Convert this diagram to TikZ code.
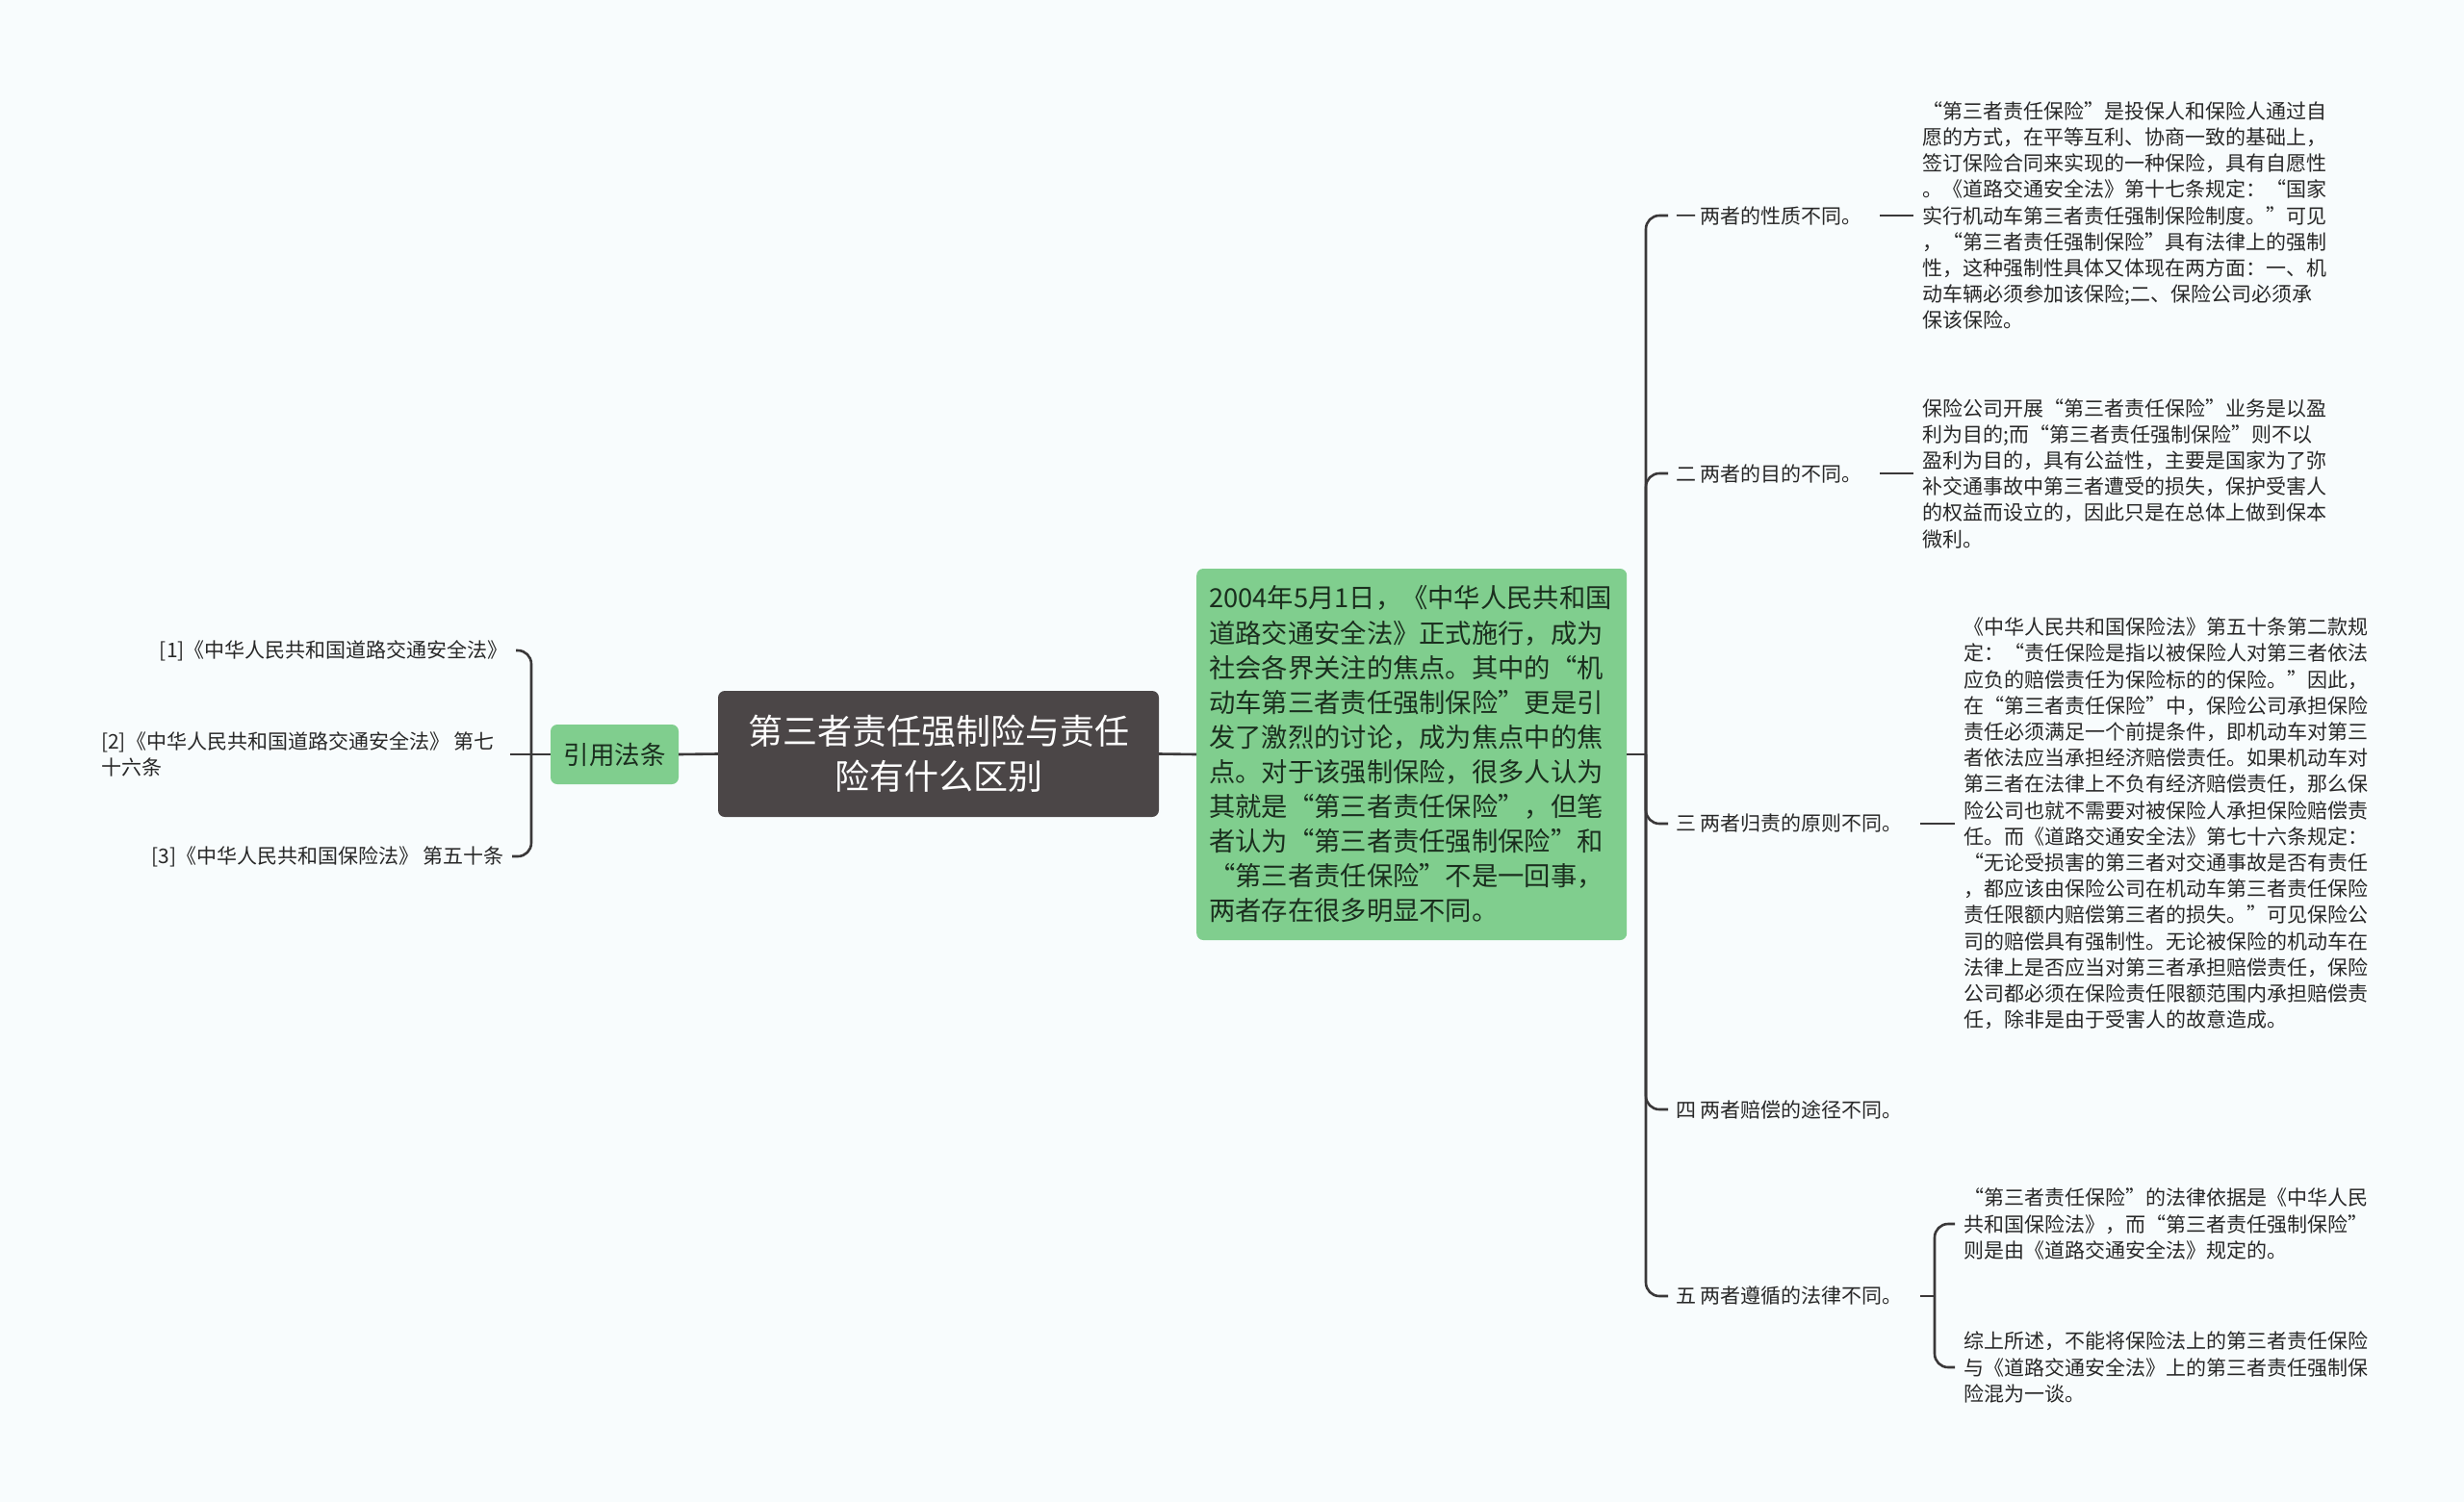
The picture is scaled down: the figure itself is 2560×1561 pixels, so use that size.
\documentclass[tikz,border=0pt]{standalone}
\usepackage{fontspec}
\setmainfont{Noto Sans CJK SC}
\usetikzlibrary{positioning,calc}

\definecolor{bgcol}{RGB}{248,252,253}
\definecolor{rootfill}{RGB}{75,70,71}
\definecolor{leaffill}{RGB}{128,206,142}
\definecolor{linecol}{RGB}{58,56,57}
\definecolor{txtcol}{RGB}{40,40,40}
\definecolor{leaftxt}{RGB}{26,46,30}

\begin{document}
\begin{tikzpicture}[
    x=1pt, y=-1pt,
    conn/.style={draw=linecol, line width=2.6pt, rounded corners=14pt},
    root/.style={fill=rootfill, rounded corners=7pt, text=white, align=center,
                 minimum width=458pt, minimum height=131pt, inner sep=0pt,
                 font=\fontsize{36}{47}\selectfont},
    topic/.style={fill=leaffill, rounded corners=7pt, text=leaftxt,
                  inner sep=0pt, font=\fontsize{26.5}{34}\selectfont},
    intro/.style={fill=leaffill, rounded corners=7pt, text=leaftxt, align=left,
                  text width=421pt, inner xsep=13pt, minimum height=386pt,
                  font=\fontsize{27.3}{36.1}\selectfont},
    label/.style={anchor=west, inner xsep=8pt, text=txtcol,
                  font=\fontsize{21}{26}\selectfont},
    detail/.style={anchor=west, align=left, inner xsep=9pt, text=txtcol,
                   font=\fontsize{21}{27.2}\selectfont},
    ref/.style={detail, anchor=east, inner xsep=8pt},
  ]
  \fill[bgcol] (0,0) rectangle (2560,1561);

  % ---------------------------------------------------------------
  % Centre: root title, citation topic (left), intro text (right)
  % ---------------------------------------------------------------
  \node[root] (root) at (975,783.5) {第三者责任强制险与责任\\险有什么区别};
  \node[topic, minimum width=133pt, minimum height=62pt] (cite) at (638.5,784) {引用法条};
  \node[intro, anchor=west] (intro) at (1243,784)
    {2004年5月1日，《中华人民共和国\\
     道路交通安全法》正式施行，成为\\
     社会各界关注的焦点。其中的“机\\
     动车第三者责任强制保险”更是引\\
     发了激烈的讨论，成为焦点中的焦\\
     点。对于该强制保险，很多人认为\\
     其就是“第三者责任保险”，但笔\\
     者认为“第三者责任强制保险”和\\
     “第三者责任保险”不是一回事，\\
     两者存在很多明显不同。};

  \coordinate (jL) at (552,784);
  \coordinate (jR) at (1710,784);
  \draw[conn] (root.west) -- (cite.east);
  \draw[conn] (cite.west) -- (jL);
  \draw[conn] (root.east) -- (intro.west);
  \draw[conn] (intro.east) -- (jR);

  % ---------------------------------------------------------------
  % Left: cited laws
  % ---------------------------------------------------------------
  \node[ref] (r1) at (536,676) {[1]《中华人民共和国道路交通安全法》};
  \node[ref] (r2) at (522,784) {[2]《中华人民共和国道路交通安全法》 第七\\十六条};
  \node[ref] (r3) at (532,890) {[3]《中华人民共和国保险法》 第五十条};

  \draw[conn] (jL) |- (r1.east);
  \draw[conn] (jL) -- ($(r2.east)+(8,0)$);
  \draw[conn] (jL) |- (r3.east);

  % ---------------------------------------------------------------
  % Right: the five differences
  % ---------------------------------------------------------------
  \node[label] (b1) at (1733,224) {一 两者的性质不同。};
  \node[label] (b2) at (1733,492) {二 两者的目的不同。};
  \node[label] (b3) at (1733,856) {三 两者归责的原则不同。};
  \node[label] (b4) at (1733,1153) {四 两者赔偿的途径不同。};
  \node[label] (b5) at (1733,1347) {五 两者遵循的法律不同。};

  \foreach \b in {b1,b2,b3,b4,b5}
    \draw[conn] (jR) |- (\b.west);

  \node[detail] (d1) at (1988,224)
    {“第三者责任保险”是投保人和保险人通过自\\
     愿的方式，在平等互利、协商一致的基础上，\\
     签订保险合同来实现的一种保险，具有自愿性\\
     。《道路交通安全法》第十七条规定：“国家\\
     实行机动车第三者责任强制保险制度。”可见\\
     ，“第三者责任强制保险”具有法律上的强制\\
     性，这种强制性具体又体现在两方面：一、机\\
     动车辆必须参加该保险;二、保险公司必须承\\
     保该保险。};
  \node[detail] (d2) at (1988,492)
    {保险公司开展“第三者责任保险”业务是以盈\\
     利为目的;而“第三者责任强制保险”则不以\\
     盈利为目的，具有公益性，主要是国家为了弥\\
     补交通事故中第三者遭受的损失，保护受害人\\
     的权益而设立的，因此只是在总体上做到保本\\
     微利。};
  \node[detail] (d3) at (2031,856)
    {《中华人民共和国保险法》第五十条第二款规\\
     定：“责任保险是指以被保险人对第三者依法\\
     应负的赔偿责任为保险标的的保险。”因此，\\
     在“第三者责任保险”中，保险公司承担保险\\
     责任必须满足一个前提条件，即机动车对第三\\
     者依法应当承担经济赔偿责任。如果机动车对\\
     第三者在法律上不负有经济赔偿责任，那么保\\
     险公司也就不需要对被保险人承担保险赔偿责\\
     任。而《道路交通安全法》第七十六条规定：\\
     “无论受损害的第三者对交通事故是否有责任\\
     ，都应该由保险公司在机动车第三者责任保险\\
     责任限额内赔偿第三者的损失。”可见保险公\\
     司的赔偿具有强制性。无论被保险的机动车在\\
     法律上是否应当对第三者承担赔偿责任，保险\\
     公司都必须在保险责任限额范围内承担赔偿责\\
     任，除非是由于受害人的故意造成。};
  \node[detail] (d5a) at (2031,1272)
    {“第三者责任保险”的法律依据是《中华人民\\
     共和国保险法》，而“第三者责任强制保险”\\
     则是由《道路交通安全法》规定的。};
  \node[detail] (d5b) at (2031,1421)
    {综上所述，不能将保险法上的第三者责任保险\\
     与《道路交通安全法》上的第三者责任强制保\\
     险混为一谈。};

  \draw[conn, shorten <=10pt] (b1.east) -- (d1.west);
  \draw[conn, shorten <=10pt] (b2.east) -- (d2.west);
  \draw[conn, shorten <=10pt] (b3.east) -- (d3.west);

  \coordinate (j5) at (2010,1347);
  \draw[conn, shorten <=10pt] (b5.east) -- (j5);
  \draw[conn] (j5) |- (d5a.west);
  \draw[conn] (j5) |- (d5b.west);
\end{tikzpicture}
\end{document}
